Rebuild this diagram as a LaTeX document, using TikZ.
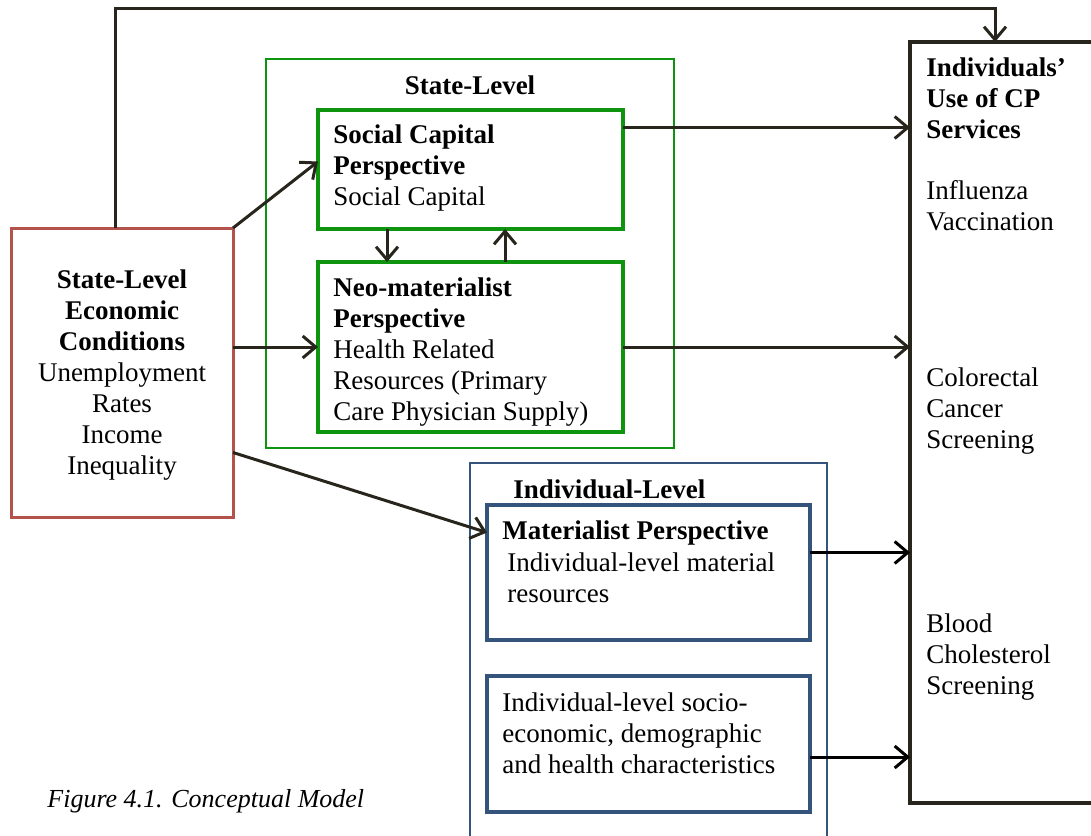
\documentclass[tikz,border=0pt]{standalone}
\usepackage{fontspec}
\setmainfont{Liberation Serif}
\usetikzlibrary{arrows.meta,fit}

\definecolor{econred}{RGB}{180,82,76}
\definecolor{stategreen}{RGB}{14,148,14}
\definecolor{indivblue}{RGB}{52,84,124}
\definecolor{arrowdark}{RGB}{40,38,28}

\begin{document}
\begin{tikzpicture}[x=0.5pt, y=-0.5pt,
  box/.style={draw, rectangle, inner sep=0pt, outer sep=0pt},
  txt/.style={inner sep=0pt, anchor=base west, align=left, font=\fontsize{13.5}{15.5}\selectfont},
  link/.style={->, >={Straight Barb[length=6.5pt,width=11pt]}, line width=1.5pt, draw=arrowdark}]
\useasboundingbox (0,0) rectangle (1091,835);

% boxes
\node[box, line width=2pt, draw=arrowdark, fit={(910,42) (1120,803)}] (cp) {};
\node[box, line width=1.5pt, draw=econred, fit={(11,228) (233,517)}] (econ) {};
\node[box, line width=1.2pt, draw=stategreen, fit={(266,59) (674,448)}] (state) {};
\node[box, line width=2pt, draw=stategreen, fit={(318,110) (623,229)}] (sc) {};
\node[box, line width=2pt, draw=stategreen, fit={(318,262) (623,432)}] (neo) {};
\node[box, line width=1pt, draw=indivblue, fit={(470,463) (827,850)}] (indiv) {};
\node[box, line width=2pt, draw=indivblue, fit={(487,505) (810,640)}] (mat) {};
\node[box, line width=2pt, draw=indivblue, fit={(487,676) (810,812)}] (ses) {};

% texts (multi-line nodes sit on their last baseline)
\node[txt, anchor=base, align=center] at (122,474) (econtext) {\textbf{State-Level}\\\textbf{Economic}\\\textbf{Conditions}\\Unemployment\\Rates\\Income\\Inequality};
\node[txt, anchor=base] at (470,94) (statetitle) {\textbf{State-Level}};
\node[txt] at (333,205) (sctext) {\textbf{Social Capital}\\\textbf{Perspective}\\Social Capital};
\node[txt] at (333,420) (neotext) {\textbf{Neo-materialist}\\\textbf{Perspective}\\Health Related\\Resources (Primary\\Care Physician Supply)};
\node[txt] at (513,498) (indivtitle) {\textbf{Individual-Level}};
\node[txt] at (502,539) (mattitle) {\textbf{Materialist Perspective}};
\node[txt] at (507,602) (mattext) {Individual-level material\\resources};
\node[txt] at (502,773) (sestext) {Individual-level socio-\\economic, demographic\\and health characteristics};
\node[txt] at (926,138) (cptitle) {\textbf{Individuals’}\\\textbf{Use of CP}\\\textbf{Services}};
\node[txt] at (926,230) (flu) {Influenza\\Vaccination};
\node[txt] at (926,448) (crc) {Colorectal\\Cancer\\Screening};
\node[txt] at (926,694) (chol) {Blood\\Cholesterol\\Screening};
\node[txt, font=\fontsize{13}{15}\selectfont\itshape] at (47,807) (caption) {Figure 4.1. Conceptual Model};

% arrows
\draw[link] (econ.north east) -- ([yshift=4pt]sc.west);
\draw[link] (econ.east |- neo.west) -- (neo.west);
\draw[link] ([yshift=-40pt]econ.east) -- ([yshift=20pt]mat.west);
\draw[link] ([xshift=34.5pt]sc.south west) -- ([xshift=34.5pt]neo.north west);
\draw[link] ([xshift=93.5pt]neo.north west) -- ([xshift=93.5pt]sc.south west);
\draw[link] ([yshift=21pt]sc.east) -- ([yshift=21pt]sc.east -| cp.west);
\draw[link] (neo.east) -- (neo.east -| cp.west);
\draw[link, draw=black] ([yshift=10pt]mat.east) -- ([yshift=10pt]mat.east -| cp.west);
\draw[link, draw=black] ([yshift=-6.5pt]ses.east) -- ([yshift=-6.5pt]ses.east -| cp.west);
\draw[link] ([xshift=-3.5pt]econ.north) -- ++(0,-220) -| ([xshift=-10pt]cp.north);

\end{tikzpicture}
\end{document}
